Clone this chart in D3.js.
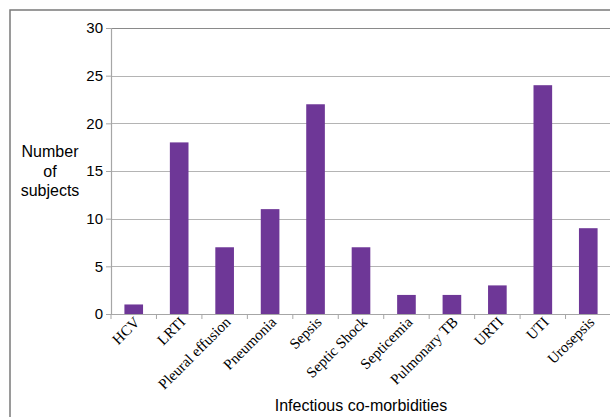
<!DOCTYPE html>
<html>
<head>
<meta charset="utf-8">
<script src="https://cdn.jsdelivr.net/npm/d3@7"></script>
<style>
  body { margin: 0; background: #fff; }
  svg { display: block; }
</style>
</head>
<body>
<div id="chart"></div>
<script>
// loading data
var categories = ["HCV", "LRTI", "Pleural effusion", "Pneumonia", "Sepsis", "Septic Shock",
                  "Septicemia", "Pulmonary TB", "URTI", "UTI", "Urosepsis"];
var subjects = [1, 18, 7, 11, 22, 7, 2, 2, 3, 24, 9];
var yTicks = [0, 5, 10, 15, 20, 25, 30];

var data = categories.map(function(c, i) { return { name: c, value: subjects[i] }; });

// setting the dimensions and margins
var W = 610, H = 417;
var margin = { top: 28, right: -1, bottom: 103, left: 111 };
var width = W - margin.left - margin.right,
    height = H - margin.top - margin.bottom;

var svg = d3.select("#chart")
  .append("svg")
  .attr("width", W)
  .attr("height", H);

// outer frame (only left and top visible)
svg.append("rect")
  .attr("x", 10)
  .attr("y", 10)
  .attr("width", W + 20)
  .attr("height", H + 20)
  .attr("fill", "none")
  .attr("stroke", "#7a7a7a")
  .attr("stroke-width", 1.5);

var g = svg.append("g")
  .attr("transform", "translate(" + margin.left + "," + margin.top + ")");

// scales
var x = d3.scaleBand()
  .domain(categories)
  .range([0, width])
  .paddingInner(0.59)
  .paddingOuter(0.295);

var y = d3.scaleLinear()
  .domain([0, 30])
  .range([height, 0]);

// gridlines
g.selectAll(".grid")
  .data(yTicks.filter(function(t) { return t > 0; }))
  .enter()
  .append("line")
  .attr("class", "grid")
  .attr("x1", 0)
  .attr("x2", width)
  .attr("y1", function(d) { return Math.round(y(d)) + 0.5; })
  .attr("y2", function(d) { return Math.round(y(d)) + 0.5; })
  .attr("stroke", function(d) { return d === 30 ? "#8a8a8a" : "#b4b4b4"; })
  .attr("stroke-width", 1.2);

// bars
g.selectAll(".bar")
  .data(data)
  .enter()
  .append("rect")
  .attr("class", "bar")
  .attr("x", function(d) { return x(d.name); })
  .attr("width", x.bandwidth())
  .attr("y", function(d) { return y(d.value); })
  .attr("height", function(d) { return height - y(d.value); })
  .attr("fill", "#6e3797");

// y axis
var yAxis = g.append("g")
  .call(d3.axisLeft(y).tickValues(yTicks).tickSize(5).tickPadding(3));
yAxis.select(".domain").attr("stroke", "#a6a6a6").attr("stroke-width", 1.2);
yAxis.selectAll(".tick line").attr("stroke", "#a6a6a6");
yAxis.selectAll("text")
  .attr("font-family", "'Liberation Sans', Arial, sans-serif")
  .attr("font-size", "15px")
  .attr("fill", "#000");

// x axis: ticks between categories
var step = x.step();
var xAxis = g.append("g")
  .attr("transform", "translate(0," + height + ")");
xAxis.append("line")
  .attr("x1", 0).attr("x2", width)
  .attr("y1", 0.5).attr("y2", 0.5)
  .attr("stroke", "#a6a6a6")
  .attr("stroke-width", 1.2);
xAxis.selectAll(".xtick")
  .data(d3.range(categories.length + 1))
  .enter()
  .append("line")
  .attr("x1", function(i) { return i * step; })
  .attr("x2", function(i) { return i * step; })
  .attr("y1", 0)
  .attr("y2", 5)
  .attr("stroke", "#a6a6a6");

// rotated category labels
xAxis.selectAll(".xlabel")
  .data(categories)
  .enter()
  .append("text")
  .attr("class", "xlabel")
  .attr("text-anchor", "end")
  .attr("font-family", "'Liberation Serif', 'Times New Roman', serif")
  .attr("font-size", "15px")
  .attr("transform", function(d) {
    return "translate(" + (x(d) + x.bandwidth() / 2 + 7) + ",9) rotate(-45)";
  })
  .text(function(d) { return d; });

// axis titles
svg.append("text")
  .attr("x", 361)
  .attr("y", 411)
  .attr("text-anchor", "middle")
  .attr("font-family", "'Liberation Sans', Arial, sans-serif")
  .attr("font-size", "16px")
  .text("Infectious co-morbidities");

var yTitle = svg.append("text")
  .attr("text-anchor", "middle")
  .attr("font-family", "'Liberation Sans', Arial, sans-serif")
  .attr("font-size", "16px");
["Number", "of", "subjects"].forEach(function(t, i) {
  yTitle.append("tspan")
    .attr("x", 50)
    .attr("y", 157 + i * 19.5)
    .text(t);
});
</script>
</body>
</html>
